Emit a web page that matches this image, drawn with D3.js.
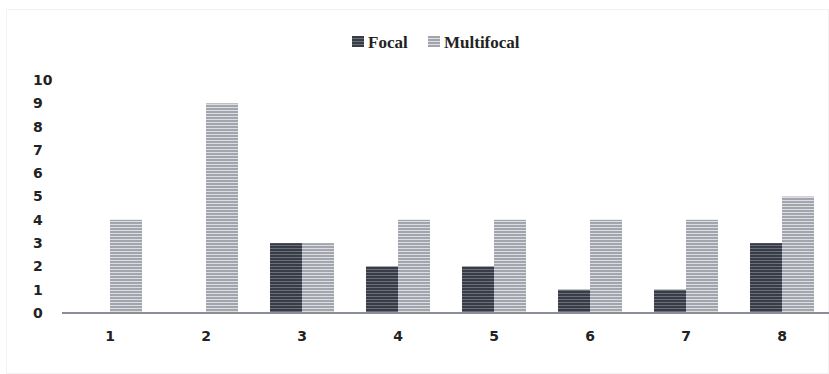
<!DOCTYPE html>
<html><head><meta charset="utf-8">
<script src="https://cdn.jsdelivr.net/npm/d3@7"></script>
<style>body{margin:0;background:#fff}</style>
</head><body>
<svg id="c" width="829" height="374"></svg>
<script>
const categories = ["1","2","3","4","5","6","7","8"];
const seriesNames = ["Focal","Multifocal"];
const focal = [0,0,3,2,2,1,1,3];
const multifocal = [4,9,3,4,4,4,4,5];
const yTicks = [0,1,2,3,4,5,6,7,8,9,10];

const svg = d3.select("#c");
const W = 829, H = 374;
const m = {l:62, r:-1, t:80, b:61};
const colors = {Focal:["#383c47","#6a6f79"], Multifocal:["#a2a5ad","#dcdee2"]};

const defs = svg.append("defs");
seriesNames.forEach((s,i)=>{
  const p = defs.append("pattern").attr("id","pat"+i).attr("patternUnits","userSpaceOnUse")
    .attr("width",8).attr("height",3);
  p.append("rect").attr("width",8).attr("height",3).attr("fill",colors[s][1]);
  p.append("rect").attr("width",8).attr("height",2).attr("fill",colors[s][0]);
});

svg.append("rect").attr("x",6.5).attr("y",9.5).attr("width",W-7).attr("height",H-10)
  .attr("fill","none").attr("stroke","#f2f2f2");

const x = d3.scaleBand().domain(categories).range([m.l, W-m.r]).paddingInner(1/3).paddingOuter(1/6);
const xs = d3.scaleBand().domain(seriesNames).range([0, x.bandwidth()]);
const y = d3.scaleLinear().domain([0,10]).range([H-m.b, m.t]);

const data = categories.map((c,i)=>({c, vals:[focal[i], multifocal[i]]}));
const g = svg.append("g");
data.forEach(d=>{
  seriesNames.forEach((s,j)=>{
    const v = d.vals[j];
    if (v<=0) return;
    g.append("rect").attr("x", x(d.c)+xs(s)).attr("width", xs.bandwidth())
      .attr("y", y(v)).attr("height", y(0)-y(v)).attr("fill","url(#pat"+j+")");
  });
});

svg.append("line").attr("x1",m.l).attr("x2",W).attr("y1",y(0)).attr("y2",y(0))
  .attr("stroke","#8a8d93").attr("stroke-width",2);

const font = "'DejaVu Sans', sans-serif";
svg.append("g").selectAll("text").data(yTicks).join("text")
  .attr("x",33).attr("y",d=>y(d)).attr("dy","0.35em")
  .attr("font-family",font).attr("font-weight","bold").attr("font-size",14).attr("fill","#222")
  .text(d=>d);

svg.append("g").selectAll("text").data(categories).join("text")
  .attr("x",d=>x(d)+x.bandwidth()/2).attr("y",y(0)+23).attr("dy","0.35em").attr("text-anchor","middle")
  .attr("font-family",font).attr("font-weight","bold").attr("font-size",14).attr("fill","#222")
  .text(d=>d);

const lg = svg.append("g");
const lx = [352, 428];
seriesNames.forEach((s,i)=>{
  lg.append("rect").attr("x",lx[i]).attr("y",36).attr("width",12).attr("height",11).attr("fill","url(#pat"+i+")");
  lg.append("text").attr("x",lx[i]+16).attr("y",42).attr("dy","0.35em")
    .attr("font-family","'Liberation Serif', serif").attr("font-weight","bold").attr("font-size",17).attr("fill","#222")
    .text(s);
});
</script>
</body></html>
